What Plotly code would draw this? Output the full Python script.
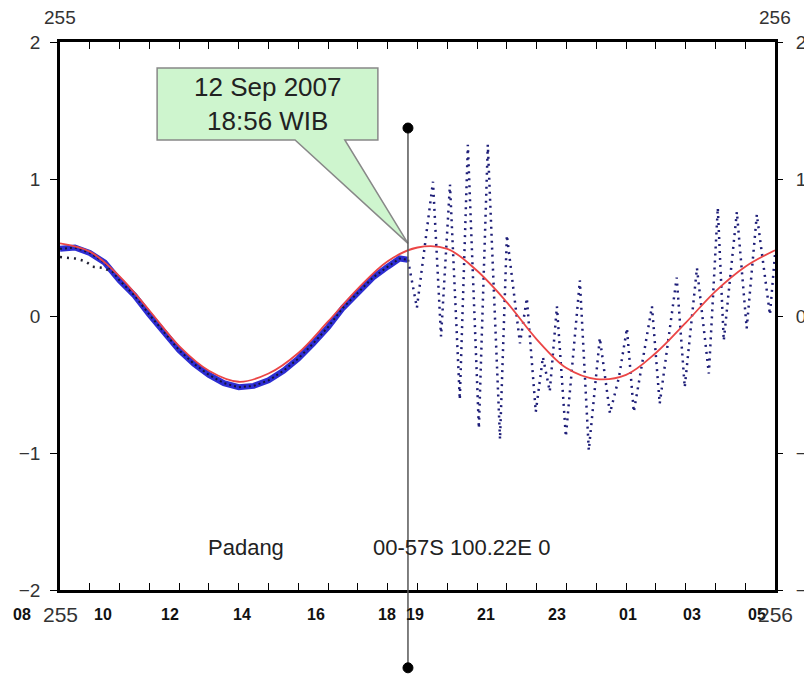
import plotly.graph_objects as go

# hours after 00 UTC day 255, water level (m)
pred_t = [0, 1, 2, 3, 4, 5, 6, 7, 8, 9, 10, 11, 12, 13, 14, 15, 16, 17, 18, 19, 20, 21, 22, 23, 24]
pred_v = [0.53, 0.47, 0.29, 0.04, -0.22, -0.40, -0.48, -0.42, -0.27, -0.04, 0.20, 0.40, 0.50,
          0.49, 0.33, 0.10, -0.17, -0.38, -0.46, -0.43, -0.27, -0.05, 0.18, 0.36, 0.48]

obs_t = [0, 0.5, 1, 1.5, 2, 2.5, 3, 3.5, 4, 4.5, 5, 5.5, 6, 6.5, 7, 7.5, 8, 8.5, 9, 9.5,
         10, 10.5, 11, 11.4, 11.68]
obs_v = [0.49, 0.50, 0.46, 0.39, 0.26, 0.15, 0.01, -0.12, -0.25, -0.35, -0.43, -0.49, -0.52,
         -0.51, -0.47, -0.40, -0.31, -0.20, -0.08, 0.06, 0.17, 0.28, 0.36, 0.42, 0.41]

early_t = [0, 0.5, 0.85, 1.1, 1.5, 1.7]
early_v = [0.43, 0.42, 0.40, 0.36, 0.35, 0.32]

tsu_t = [11.68, 11.98, 12.52, 12.79, 13.09, 13.42, 13.69, 14.06, 14.36, 14.77, 15.00, 15.44,
         15.67, 15.97, 16.21, 16.44, 16.68, 16.98, 17.45, 17.75, 18.12, 18.46, 18.76, 19.03,
         19.26, 19.63, 19.87, 20.13, 20.70, 20.97, 21.38, 21.78, 22.08, 22.28, 22.72, 23.05,
         23.39, 23.83, 24.00]
tsu_v = [0.41, 0.06, 0.98, -0.15, 0.96, -0.61, 1.25, -0.82, 1.25, -0.90, 0.59, -0.20,
         0.13, -0.70, -0.30, -0.55, 0.07, -0.88, 0.26, -0.98, -0.16, -0.71, -0.45, -0.09,
         -0.70, -0.22, 0.07, -0.64, 0.28, -0.52, 0.35, -0.42, 0.79, -0.18, 0.76, -0.09,
         0.74, 0.01, 0.45]

event_t = 11.68
event_top = 0.843     # paper fraction
event_bottom = -0.142

hour_labels = ["08", "10", "12", "14", "16", "18", "19", "21", "23", "01", "03", "05"]
hour_pos = [-1.28, 1.44, 3.69, 6.11, 8.59, 10.97, 11.91, 14.30, 16.68, 19.06, 21.21, 23.39]
day_labels = ["255", "256"]
day_pos = [0, 24]
y_ticks = [-2, -1, 0, 1, 2]
x_span = 24.0

font = "Liberation Sans, Arial, sans-serif"

fig = go.Figure()

# callout box with tail pointing at event
fig.add_shape(type="path", xref="x", yref="y",
              path="M 3.26 1.81 L 10.67 1.81 L 10.67 1.285 L 9.56 1.285 L 11.68 0.53 "
                   "L 7.89 1.285 L 3.26 1.285 Z",
              fillcolor="rgb(206,245,206)", line=dict(color="#888888", width=1.5), layer="below")

fig.add_trace(go.Scatter(x=obs_t, y=obs_v, mode="lines", line=dict(color="rgb(45,45,210)", width=6),
                         hoverinfo="skip"))
fig.add_trace(go.Scatter(x=obs_t, y=obs_v, mode="lines",
                         line=dict(color="rgb(20,20,60)", width=2, dash="2px,3px"), hoverinfo="skip"))
fig.add_trace(go.Scatter(x=early_t, y=early_v, mode="lines",
                         line=dict(color="rgb(30,30,50)", width=2.5, dash="2px,5px"), hoverinfo="skip"))
fig.add_trace(go.Scatter(x=tsu_t, y=tsu_v, mode="lines",
                         line=dict(color="rgb(30,30,120)", width=2.5, dash="2px,5px"), hoverinfo="skip"))
fig.add_trace(go.Scatter(x=pred_t, y=pred_v, mode="lines",
                         line=dict(color="rgb(235,70,70)", width=1.8, shape="spline"), hoverinfo="skip"))

# event marker line with end dots
fig.add_shape(type="line", xref="x", yref="paper", x0=event_t, x1=event_t, y0=event_bottom, y1=event_top,
              line=dict(color="#555555", width=1.5))
for yy in [event_top, event_bottom]:
    fig.add_shape(type="circle", xref="x", yref="paper", xsizemode="pixel", ysizemode="pixel",
                  xanchor=event_t, yanchor=yy, x0=-5, x1=5, y0=-5, y1=5,
                  fillcolor="black", line=dict(color="black", width=1))

fig.add_trace(go.Scatter(x=[None], y=[None], yaxis="y2", showlegend=False))

fig.add_annotation(x=6.96, y=1.55, xref="x", yref="y", text="12 Sep 2007<br>18:56 WIB",
                   showarrow=False, font=dict(family=font, size=26, color="#222222"))
fig.add_annotation(x=6.24, y=-1.69, xref="x", yref="y", text="Padang", showarrow=False,
                   font=dict(family=font, size=22, color="#222222"))
fig.add_annotation(x=13.46, y=-1.69, xref="x", yref="y", text="00-57S 100.22E 0", showarrow=False,
                   font=dict(family=font, size=22, color="#222222"))

for lab, pos in zip(hour_labels, hour_pos):
    fig.add_annotation(x=pos / x_span, y=-0.045, xref="paper", yref="paper", text="<b>" + lab + "</b>",
                       showarrow=False, xanchor="center", yanchor="middle",
                       font=dict(family=font, size=16, color="#111111"))
for lab, pos in zip(day_labels, day_pos):
    fig.add_annotation(x=pos / x_span, y=-0.045, xref="paper", yref="paper", text=lab, showarrow=False,
                       xanchor="center", yanchor="middle", font=dict(family=font, size=21, color="#333333"))
    fig.add_annotation(x=pos / x_span, y=1.044, xref="paper", yref="paper", text=lab, showarrow=False,
                       xanchor="center", yanchor="middle", font=dict(family=font, size=19, color="#333333"))

# the page body adds an 8px offset, so margins are shifted to keep the frame in place
fig.update_layout(
    width=812, height=675,
    margin=dict(l=52, r=45, t=34, b=93),
    paper_bgcolor="white", plot_bgcolor="white",
    showlegend=False,
    font=dict(family=font, size=19, color="#333333"),
    xaxis=dict(range=[0, x_span], dtick=1, showticklabels=False, ticks="inside", ticklen=7,
               tickcolor="black", tickwidth=1, showline=True, linecolor="black", linewidth=2.5,
               mirror="ticks", showgrid=False, zeroline=False, automargin=False),
    yaxis=dict(range=[-2, 2], tickvals=y_ticks, ticks="outside", ticklen=7, tickcolor="black",
               showline=True, linecolor="black", linewidth=2.5, mirror=True, showgrid=False,
               zeroline=False, ticklabelstandoff=6, automargin=False),
    yaxis2=dict(range=[-2, 2], tickvals=y_ticks, overlaying="y", side="right", ticks="outside",
                ticklen=7, tickcolor="black", showline=False, showgrid=False, zeroline=False,
                ticklabelstandoff=9, automargin=False),
)

fig.write_html("out.html")
